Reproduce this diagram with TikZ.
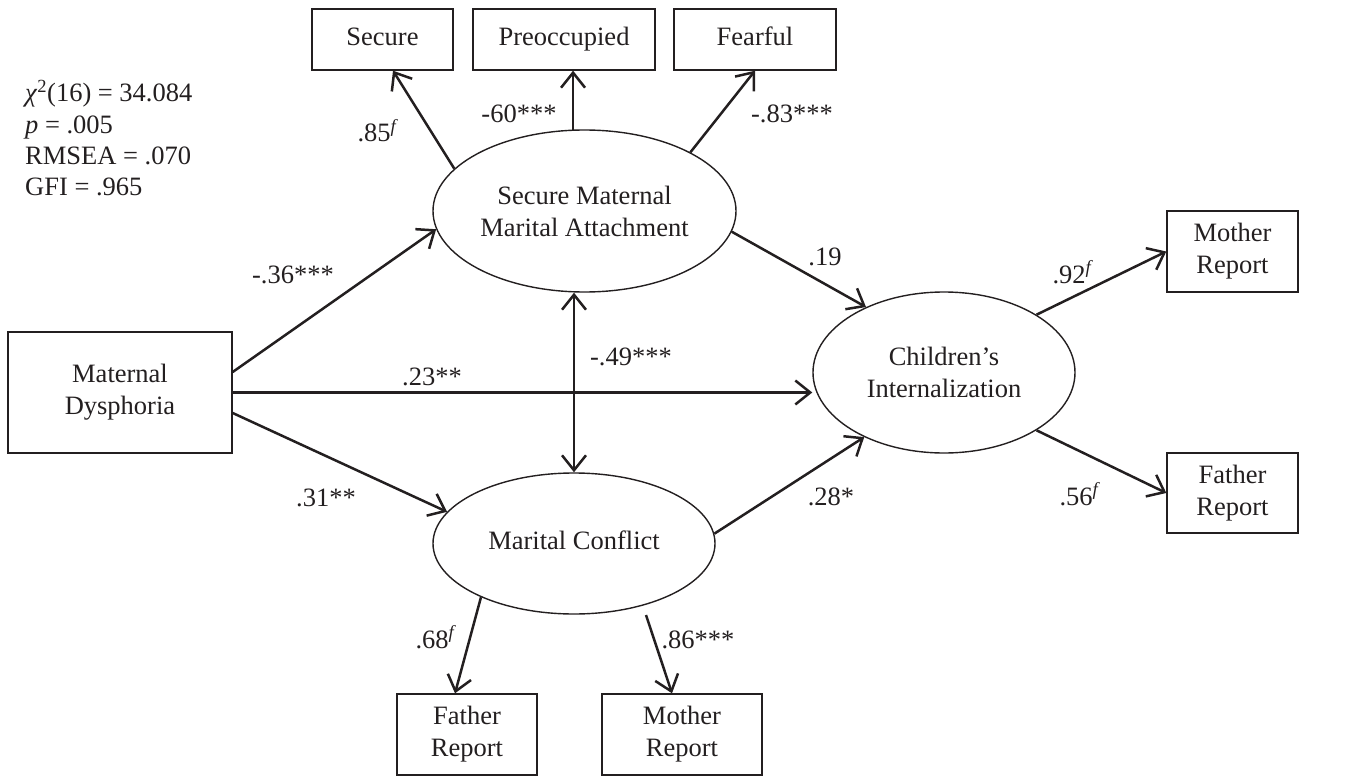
\documentclass[tikz,border=0pt]{standalone}
\usepackage{fontspec}
\setmainfont{Liberation Serif}
\usetikzlibrary{arrows.meta,shapes.geometric,calc}
\definecolor{ink}{HTML}{231F20}
\begin{document}
\begin{tikzpicture}[x=1pt,y=-1pt,
  txt/.style={font=\fontsize{26.5}{32}\selectfont, text=ink},
  box/.style={txt, draw=ink, line width=1.4pt, inner sep=0pt, align=center},
  one/.style={text height=18pt, text depth=6pt},
  lat/.style={txt, draw=ink, ellipse, line width=1.4pt, inner sep=0pt, align=center},
  path/.style={draw=ink, line width=2.5pt, -{Straight Barb[length=15pt,width=24pt,line width=2.5pt]}},
  dbl/.style={draw=ink, line width=2.5pt, {Straight Barb[length=15pt,width=24pt,line width=2.5pt]}-{Straight Barb[length=15pt,width=24pt,line width=2.5pt]}},
  lbl/.style={txt, anchor=base, inner sep=0pt}]
\useasboundingbox (0,0) rectangle (1345,776);

% fit statistics
\node[lbl, anchor=base west] (fit1) at (25,102) {\textit{χ}\textsuperscript{2}(16) = 34.084};
\node[lbl, anchor=base west] (fit2) at (25,133) {\textit{p} = .005};
\node[lbl, anchor=base west] (fit3) at (25,164) {RMSEA = .070};
\node[lbl, anchor=base west] (fit4) at (25,195) {GFI = .965};

% indicator boxes (top)
\node[box, one, minimum width=141pt, minimum height=61pt] (sec) at (382.5,39.5) {Secure};
\node[box, one, minimum width=182pt, minimum height=61pt] (pre) at (564,39.5) {Preoccupied};
\node[box, one, minimum width=162pt, minimum height=61pt] (fea) at (755,39.5) {Fearful};

% latent variables
\node[lat, minimum width=303pt, minimum height=162pt] (smma) at (584.5,211) {Secure Maternal\\Marital Attachment};
\node[lat, one, minimum width=282pt, minimum height=141pt] (mc) at (574,543.5) {Marital Conflict};
\node[lat, minimum width=262pt, minimum height=161pt] (ci) at (944,372.5) {Children’s\\Internalization};

% observed
\node[box, minimum width=224pt, minimum height=121pt] (md) at (120,392.5) {Maternal\\Dysphoria};
\node[box, minimum width=131pt, minimum height=81pt] (mrr) at (1232.5,251.5) {Mother\\Report};
\node[box, minimum width=131pt, minimum height=80pt] (frr) at (1232.5,493) {Father\\Report};
\node[box, minimum width=140pt, minimum height=81pt] (frb) at (467,734.5) {Father\\Report};
\node[box, minimum width=160pt, minimum height=81pt] (mrb) at (682,734.5) {Mother\\Report};

% helper coordinates
\coordinate (mdA) at ($(md.east)+(0,-20.5)$);
\coordinate (mdB) at ($(md.east)+(0,20.5)$);
\coordinate (mcM) at ($(mc.center)+(72,71.5)$);

% connectors
\draw[path] (smma.162.8) -- ($(sec.south)+(10.5,0)$);
\draw[path] (smma.98) -- (smma.98 |- pre.south);
\draw[path] (smma.29) -- (fea.south);
\draw[path] (mdA) -- (smma.187);
\draw[path] (md.east) -- (md.east -| ci.west);
\draw[path] (mdB) -- (mc.166);
\draw[path] (smma.352) -- (ci.140.7);
\draw[path] (mc.4.3) -- (ci.219.2);
\draw[dbl] (mc.north |- smma.south) -- (mc.north);
\draw[path] (ci.32.8) -- (mrr.west);
\draw[path] (ci.-32.8) -- (frr.west);
\draw[path] (mc.210.3) -- ($(frb.north)+(-12,0)$);
\draw[path] (mcM) -- ($(mrb.north)+(-10,0)$);

% coefficient labels
\node[lbl] (l85) at (378,142) {.85\textsuperscript{\textit{f}}};
\node[lbl] (l60) at (519,122) {-60***};
\node[lbl] (l83) at (792,122) {-.83***};
\node[lbl] (l36) at (293,283) {-.36***};
\node[lbl] (l23) at (432,385) {.23**};
\node[lbl] (l49) at (631,365) {-.49***};
\node[lbl] (l31) at (326,506) {.31**};
\node[lbl] (l19) at (825,265) {.19};
\node[lbl] (l28) at (831,505) {.28*};
\node[lbl] (l92) at (1073,283) {.92\textsuperscript{\textit{f}}};
\node[lbl] (l56) at (1080,505) {.56\textsuperscript{\textit{f}}};
\node[lbl] (l68) at (436,648) {.68\textsuperscript{\textit{f}}};
\node[lbl] (l86) at (698,648) {.86***};
\end{tikzpicture}
\end{document}
